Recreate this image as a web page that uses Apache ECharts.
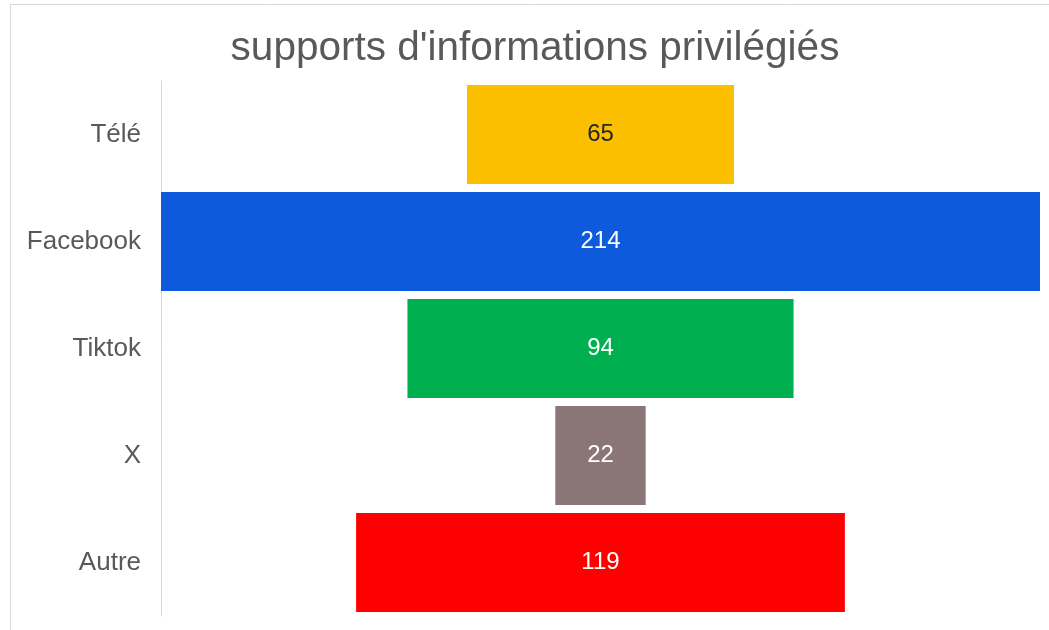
<!DOCTYPE html>
<html>
<head>
<meta charset="utf-8">
<script src="https://cdn.jsdelivr.net/npm/echarts@6/dist/echarts.min.js"></script>
<style>
html,body{margin:0;padding:0;background:#fff;}
#c{width:1049px;height:630px;}
</style>
</head>
<body>
<div id="c"></div>
<script>
const categories = ['Télé', 'Facebook', 'Tiktok', 'X', 'Autre'];
const values = [65, 214, 94, 22, 119];
const colors = ['#FBBF00', '#0D5ADD', '#00B050', '#8B7677', '#FF0000'];
const labelColors = ['#262626', '#ffffff', '#ffffff', '#ffffff', '#ffffff'];
const titleText = "supports d'informations privilégiés";

const maxV = Math.max(...values);
const offsets = values.map(v => (maxV - v) / 2);

const chart = echarts.init(document.getElementById('c'), null, {renderer: 'canvas'});
chart.setOption({
  animation: false,
  backgroundColor: '#ffffff',
  textStyle: {fontFamily: 'Liberation Sans, Arial, sans-serif'},
  title: {
    text: titleText,
    left: 530, textAlign: 'center',
    top: 23,
    textStyle: {fontSize: 40.5, fontWeight: 'normal', color: '#595959', fontFamily: 'Liberation Sans, Arial, sans-serif'}
  },
  graphic: [
    {type: 'line', shape: {x1: 10, y1: 4.5, x2: 1049, y2: 4.5}, style: {stroke: '#d9d9d9', lineWidth: 1}},
    {type: 'line', shape: {x1: 10.5, y1: 4, x2: 10.5, y2: 630}, style: {stroke: '#d9d9d9', lineWidth: 1}}
  ],
  grid: {left: 161, right: 9, top: 81, bottom: 14},
  xAxis: {type: 'value', min: 0, max: maxV, show: false},
  yAxis: {
    type: 'category', data: categories, inverse: true,
    axisLine: {show: true, lineStyle: {color: '#d9d9d9', width: 1}},
    axisTick: {show: false},
    axisLabel: {fontSize: 26, color: '#595959', margin: 20, fontFamily: 'Liberation Sans, Arial, sans-serif'}
  },
  series: [
    {
      type: 'bar', stack: 'f', data: offsets, barWidth: '92.5%',
      itemStyle: {color: 'rgba(0,0,0,0)'}, silent: true
    },
    {
      type: 'bar', stack: 'f', barWidth: '92.5%',
      data: values.map((v, i) => ({
        value: v,
        itemStyle: {color: colors[i]},
        label: {color: labelColors[i]}
      })),
      label: {show: true, position: 'inside', fontSize: 24, fontFamily: 'Liberation Sans, Arial, sans-serif'}
    }
  ]
});
</script>
</body>
</html>
